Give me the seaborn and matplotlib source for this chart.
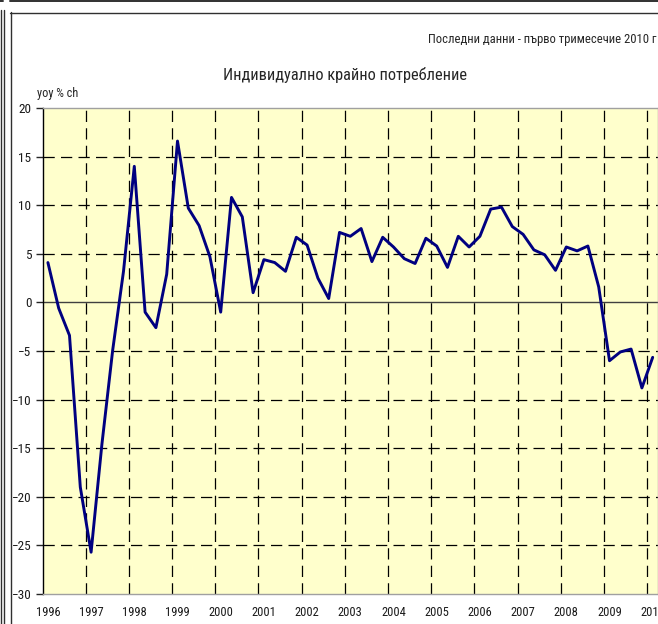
import numpy as np
import pandas as pd
import seaborn as sns
import matplotlib.pyplot as plt
from matplotlib.lines import Line2D
from matplotlib import font_manager

# data: quarterly, 1996 Q1 - 2010 Q1
years = list(range(1996, 2011))
values = [4.1, -0.6, -3.4, -19.0, -25.7, -14.6, -4.9, 3.2,
          14.0, -1.0, -2.6, 2.9, 16.6, 9.7, 7.9, 4.7,
          -1.0, 10.8, 8.8, 1.0, 4.4, 4.1, 3.2, 6.7,
          5.9, 2.5, 0.4, 7.2, 6.8, 7.6, 4.2, 6.7,
          5.7, 4.5, 4.0, 6.6, 5.8, 3.6, 6.8, 5.7,
          6.8, 9.6, 9.8, 7.8, 7.0, 5.4, 4.9, 3.3,
          5.7, 5.3, 5.8, 1.6, -6.0, -5.1, -4.8, -8.8,
          -5.65]
y_ticks = list(range(-30, 25, 5))

data = pd.DataFrame({'pos': np.arange(len(values)), 'val': values})

sns.set_style('white')

# pick a narrow font if there is one
names = {f.name for f in font_manager.fontManager.ttflist}
narrow = next((n for n in ['Liberation Sans Narrow', 'Roboto Condensed', 'Open Sans Condensed']
               if n in names), 'DejaVu Sans')
plt.rcParams['font.family'] = [narrow, 'DejaVu Sans']
plt.rcParams['font.stretch'] = 'condensed'

W, H = 658, 624
fig = plt.figure(figsize=(W / 100, H / 100), dpi=100)
fig.patch.set_facecolor('white')

ax = fig.add_axes([42.5 / W, (H - 594) / H, 615.6 / W, 486 / H])
ax.set_facecolor('#FFFFCC')

# grid
dash = (0, (9, 5))
for y in y_ticks:
    if y in (-30, 20):
        continue
    if y == 0:
        ax.axhline(0, color='#404040', lw=1.0, zorder=1)
    else:
        ax.axhline(y, color='black', lw=0.9, ls=dash, zorder=1)
for k in range(1, len(years)):
    ax.axvline(4 * k - 0.5, color='black', lw=0.9, ls=dash, zorder=1)

sns.lineplot(data=data, x='pos', y='val', ax=ax, color='#000080', lw=2.1, zorder=3)

ax.set_xlim(-0.5, len(values) - 0.5)
ax.set_ylim(-30, 20)
ax.set_xticks([4 * k for k in range(len(years))])
ax.set_xticklabels([str(y) for y in years])
ax.set_yticks(y_ticks)
ax.tick_params(axis='x', length=0, pad=9, labelsize=9, labelcolor='#1a1a1a')
ax.tick_params(axis='y', length=5, width=1, direction='out', pad=3, labelsize=9.5,
               left=True, labelcolor='#1a1a1a')
ax.set_xlabel('')
ax.set_ylabel('')

for s in ['top', 'right', 'bottom']:
    ax.spines[s].set_color('#A0A0A0')
    ax.spines[s].set_linewidth(1)
ax.spines['left'].set_color('black')
ax.spines['left'].set_linewidth(1)

# texts
fig.text(656 / W, 1 - 40 / H, 'Последни данни - първо тримесечие 2010 г',
         ha='right', va='center', fontsize=9.1)
fig.text(345 / W, 1 - 75 / H, 'Индивидуално крайно потребление',
         ha='center', va='center', fontsize=11.8)
fig.text(37 / W, 1 - 93 / H, 'yoy % ch', ha='left', va='center', fontsize=8.8)

# surrounding sheet frame lines
def px_line(x0, y0, x1, y1, lw=1.0, color='#303030'):
    fig.add_artist(Line2D([x0 / W, x1 / W], [1 - y0 / H, 1 - y1 / H],
                          transform=fig.transFigure, color=color, lw=lw))

px_line(10, 1, W, 1, lw=1.4)
px_line(0, 1, 3, 1, lw=1.4)
px_line(1, 10, 1, H)
px_line(3.5, 10, 3.5, H)
px_line(10.5, 12, 10.5, H)
px_line(10, 12.5, W, 12.5)

fig.savefig('out.png', dpi=100)
